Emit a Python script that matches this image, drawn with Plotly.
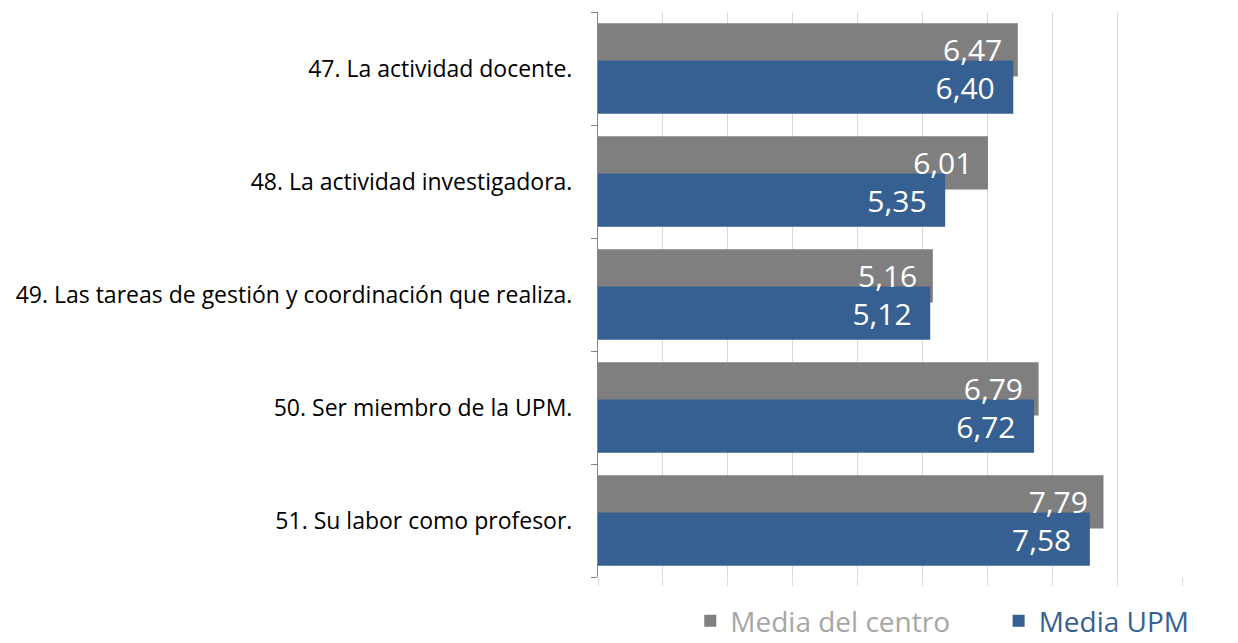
import plotly.graph_objects as go

categories = [
    "47. La actividad docente.",
    "48. La actividad investigadora.",
    "49. Las tareas de gestión y coordinación que realiza.",
    "50. Ser miembro de la UPM.",
    "51. Su labor como profesor.",
]
media_centro = [6.47, 6.01, 5.16, 6.79, 7.79]
media_upm = [6.40, 5.35, 5.12, 6.72, 7.58]

gray = "#7f7f7f"
blue = "#376092"
pos = list(range(len(categories)))
GRAY_OFF, BLUE_OFF, BW = -0.40, -0.07, 0.47

def fmt(v):
    return f"{v:.2f}".replace(".", ",") + "\u00a0\u00a0"

fig = go.Figure()
fig.add_trace(go.Bar(
    x=media_centro, y=pos, orientation="h",
    name="<span style='color:#a6a6a6'>Media del centro</span>" + "\u00a0" * 6,
    marker=dict(color=gray, line=dict(width=0)),
    offset=GRAY_OFF, width=BW,
))
fig.add_trace(go.Bar(
    x=media_upm, y=pos, orientation="h",
    name="<span style='color:#376092'>Media UPM</span>",
    marker=dict(color=blue, line=dict(width=0)),
    offset=BLUE_OFF, width=BW,
    text=[fmt(v) for v in media_upm], textposition="inside",
    insidetextanchor="end",
    textfont=dict(color="white", size=30, family="Open Sans"),
))
# labels of the grey series drawn above the blue bars
fig.add_trace(go.Scatter(
    x=media_centro, y=[p + GRAY_OFF + BW / 2 + 0.03 for p in pos],
    mode="text", text=[fmt(v) for v in media_centro],
    textposition="middle left",
    textfont=dict(color="white", size=30, family="Open Sans"),
    showlegend=False, hoverinfo="skip", cliponaxis=False,
))

fig.update_layout(
    width=1230, height=635,
    barmode="overlay",
    plot_bgcolor="white", paper_bgcolor="white",
    margin=dict(l=590, r=56, t=4, b=66, autoexpand=False),
    font=dict(family="Open Sans", color="#000000"),
    showlegend=True,
    legend=dict(
        orientation="h", x=0.158, xanchor="left", y=-0.078, yanchor="middle",
        font=dict(size=28), itemwidth=30, traceorder="normal",
    ),
    xaxis=dict(
        range=[0, 9], dtick=1, showgrid=True, gridcolor="#d9d9d9", gridwidth=1,
        showticklabels=False, zeroline=False, showline=False,
        ticks="outside", ticklen=8, tickcolor="#d9d9d9", automargin=False,
    ),
    yaxis=dict(
        range=[4.5, -0.5], tickvals=pos, ticktext=categories,
        tickfont=dict(size=23, color="#000000"),
        ticks="", showgrid=False, zeroline=False,
        showline=True, linecolor="#868686", linewidth=1,
        ticklabelstandoff=20, automargin=False,
        minor=dict(tickvals=[-0.5, 0.5, 1.5, 2.5, 3.5, 4.5], ticks="outside",
                   ticklen=6, tickcolor="#868686", showgrid=False),
    ),
)

fig.write_html("out.html")
